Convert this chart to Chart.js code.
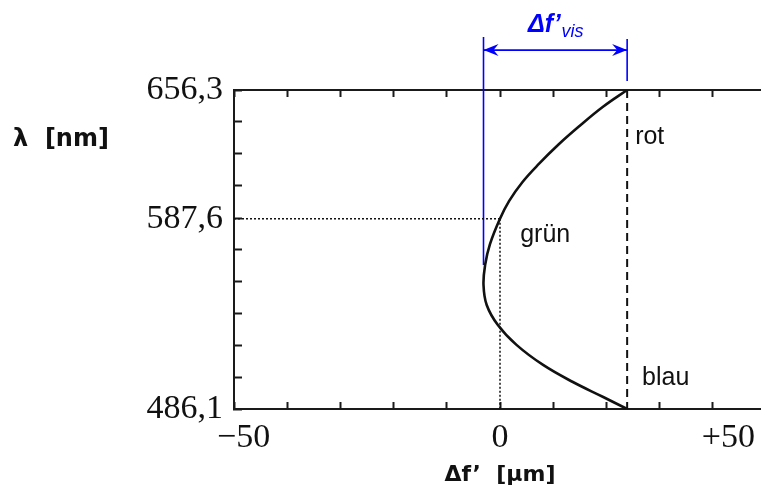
<!DOCTYPE html>
<html>
<head>
<meta charset="utf-8">
<script src="https://cdn.jsdelivr.net/npm/chart.js@4.4.1/dist/chart.umd.min.js"></script>
<style>
  html, body { margin: 0; padding: 0; background: #fff; overflow: hidden; }
  /* the frame runs a little past the right window edge */
  #wrap { width: 767px; height: 488px; }
</style>
</head>
<body>
<div id="wrap"><canvas id="chart"></canvas></div>
<script>
// Longitudinal chromatic aberration: focus shift over wavelength
var lambdaNm = [656.3, 647.2, 637.2, 627.2, 617.1, 607.1, 597.0, 587.6, 573.9, 562.9, 552.3, 541.6, 530.9, 520.3, 509.6, 500.5, 492.5, 486.1];
var focusUm  = [23.9, 19.3, 15.0, 11.0, 7.4, 4.2, 1.7, 0.0, -1.9, -2.8, -3.1, -2.5, -0.4, 3.1, 8.1, 13.7, 19.4, 23.9];

// axis ranges and labels
var lambdaMin = 486.1, lambdaMax = 656.3, lambdaDivisions = 10;
var lambdaLabelled = [656.3, 587.6, 486.1];
var focusMin = -50, focusMax = 50, focusStep = 10;
var focusLabelled = [-50, 0, 50];
var focusLabelText = ['\u221250', '0', '+50'];

// reference lines
var lambdaGreen = 587.6;
var focusEnds = 23.9;          // red and blue both focus here
var visSpan = [-3.1, 23.9];    // Δf'vis: curve minimum to the ends
var visLeftLine = [684.6, 562.9];
var visRightLine = [683.5, 661.1];
var visArrowLambda = 677.6;

// colour names beside the curve
var waveNames = ['rot', 'gr\u00fcn', 'blau'];
var nameFocus = [25.4, 3.8, 26.7];
var nameLambda = [631.2, 578.9, 502.6];

function lambdaTicks() {
  var t = [];
  for (var i = 0; i <= lambdaDivisions; i++) {
    var v = lambdaMin + i * (lambdaMax - lambdaMin) / lambdaDivisions;
    if (Math.abs(v - lambdaGreen) < 2) v = lambdaGreen;
    t.push({ value: v });
  }
  return t;
}

function focusTicks() {
  var t = [];
  for (var v = focusMin; v <= focusMax; v += focusStep) t.push({ value: v });
  return t;
}

function pts(xs, ys) {
  return xs.map(function(x, i) { return { x: x, y: ys[i] }; });
}

var frameColor = '#1a1a1a';
var blue = '#0000ff';
var serif = '"Liberation Serif", "Times New Roman", serif';

function drawHead(ctx, x, y, dir) {
  ctx.beginPath();
  ctx.moveTo(x, y);
  ctx.lineTo(x - dir * 15, y - 6);
  ctx.lineTo(x - dir * 10, y);
  ctx.lineTo(x - dir * 15, y + 6);
  ctx.closePath();
  ctx.fill();
}

var annotate = {
  id: 'annotate',
  afterDatasetsDraw: function(chart) {
    var ctx = chart.ctx;
    var xs = chart.scales.x, ys = chart.scales.y;
    ctx.save();

    // colour names
    ctx.fillStyle = '#111';
    ctx.font = '25px "Liberation Sans", Arial, sans-serif';
    ctx.textAlign = 'left';
    ctx.textBaseline = 'middle';
    waveNames.forEach(function(n, i) {
      ctx.fillText(n, xs.getPixelForValue(nameFocus[i]), ys.getPixelForValue(nameLambda[i]));
    });

    // arrow heads on the Δf'vis span
    var arrow = chart.getDatasetMeta(6).data;
    ctx.fillStyle = blue;
    drawHead(ctx, arrow[0].x, arrow[0].y, -1);
    drawHead(ctx, arrow[1].x, arrow[1].y, 1);

    // Δf'vis label above the arrow
    var mid = (arrow[0].x + arrow[1].x) / 2;
    var main = '\u0394f\u2019', sub = 'vis';
    var mainFont = 'italic bold 25px "Liberation Sans", Arial, sans-serif';
    var subFont = 'italic 18px "Liberation Sans", Arial, sans-serif';
    ctx.font = mainFont;
    var wMain = ctx.measureText(main).width;
    ctx.font = subFont;
    var wSub = ctx.measureText(sub).width;
    var x0 = mid - (wMain + wSub) / 2;
    ctx.textBaseline = 'alphabetic';
    ctx.font = mainFont;
    ctx.fillText(main, x0, arrow[0].y - 18);
    ctx.font = subFont;
    ctx.fillText(sub, x0 + wMain + 1, arrow[0].y - 13);

    // x tick labels, kept inside the visible window
    ctx.fillStyle = '#111';
    ctx.font = '34px ' + serif;
    focusLabelled.forEach(function(v, i) {
      var txt = focusLabelText[i];
      var w = ctx.measureText(txt).width;
      var left = xs.getPixelForValue(v) - w / 2;
      left = Math.max(left, chart.chartArea.left - 17);
      left = Math.min(left, window.innerWidth - 6 - w);
      ctx.fillText(txt, left, chart.chartArea.bottom + 38);
    });

    // wavelength axis title, written horizontally
    ctx.font = 'bold 24px "DejaVu Sans", Verdana, sans-serif';
    ctx.textBaseline = 'middle';
    ctx.fillText('\u03bb  [nm]', 13, 140);

    ctx.restore();
  }
};

var edgeAxis = {
  type: 'linear',
  min: focusMin,
  max: focusMax,
  afterBuildTicks: function(s) { s.ticks = focusTicks(); },
  ticks: { display: false },
  grid: { drawOnChartArea: false, tickLength: -7, tickWidth: 2, tickColor: frameColor },
  border: { display: true, width: 2, color: frameColor }
};

new Chart(document.getElementById('chart'), {
  type: 'scatter',
  data: {
    datasets: [
      { data: pts(focusUm, lambdaNm), showLine: true, borderColor: '#111', borderWidth: 2.6, tension: 0.4, pointRadius: 0 },
      { data: pts([focusEnds, focusEnds], [lambdaMax, lambdaMin]), showLine: true, borderColor: '#111', borderWidth: 2, borderDash: [8, 5], pointRadius: 0 },
      { data: pts([focusMin, 0], [lambdaGreen, lambdaGreen]), showLine: true, borderColor: '#111', borderWidth: 1.5, borderDash: [2, 2], pointRadius: 0 },
      { data: pts([0, 0], [lambdaGreen, lambdaMin]), showLine: true, borderColor: '#111', borderWidth: 1.5, borderDash: [2, 2], pointRadius: 0 },
      { data: pts([visSpan[0], visSpan[0]], visLeftLine), showLine: true, borderColor: blue, borderWidth: 1.6, pointRadius: 0, clip: false },
      { data: pts([visSpan[1], visSpan[1]], visRightLine), showLine: true, borderColor: blue, borderWidth: 1.6, pointRadius: 0, clip: false },
      { data: pts(visSpan, [visArrowLambda, visArrowLambda]), showLine: true, borderColor: blue, borderWidth: 1.8, pointRadius: 0, clip: false }
    ]
  },
  options: {
    responsive: true,
    maintainAspectRatio: false,
    animation: false,
    layout: { autoPadding: false, padding: { top: 90, right: 1, left: 0, bottom: 0 } },
    plugins: { legend: { display: false }, tooltip: { enabled: false } },
    scales: {
      x: Object.assign({}, edgeAxis, {
        position: 'bottom',
        afterFit: function(s) { s.height = 79; },
        title: {
          display: true,
          text: '\u0394f\u2019  [\u00b5m]',
          color: '#111',
          font: { family: '"DejaVu Sans", Verdana, sans-serif', size: 22, weight: 'bold' },
          padding: { top: 0, bottom: 0 }
        }
      }),
      x2: Object.assign({}, edgeAxis, {
        position: 'top',
        afterFit: function(s) { s.height = 0; }
      }),
      y: {
        type: 'linear',
        position: 'left',
        min: lambdaMin,
        max: lambdaMax,
        afterFit: function(s) { s.width = 234; },
        afterBuildTicks: function(s) { s.ticks = lambdaTicks(); },
        ticks: {
          autoSkip: false,
          padding: 19,
          color: '#111',
          font: { family: serif, size: 34 },
          callback: function(v) {
            for (var i = 0; i < lambdaLabelled.length; i++) {
              if (Math.abs(v - lambdaLabelled[i]) < 0.05) return lambdaLabelled[i].toFixed(1).replace('.', ',');
            }
            return '';
          }
        },
        grid: { drawOnChartArea: false, tickLength: -8, tickWidth: 2, tickColor: frameColor },
        border: { display: true, width: 2, color: frameColor }
      }
    }
  },
  plugins: [annotate]
});
</script>
</body>
</html>
